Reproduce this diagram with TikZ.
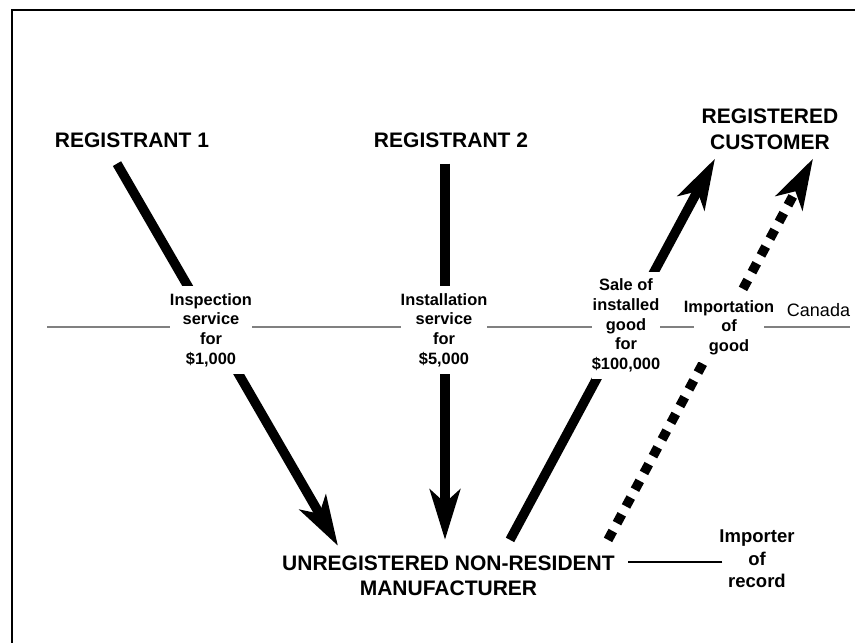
\documentclass[tikz,border=0pt]{standalone}
\usepackage{fontspec}
\setmainfont{Liberation Sans}
\usetikzlibrary{arrows.meta}
\tikzset{%
	heavy/.style={line width=9.5pt,-{Stealth[length=50pt,width=30pt,inset=13pt]}},
	dotty/.style={heavy,dash pattern=on 10pt off 9pt}
}

\begin{document}
\begin{tikzpicture}[x=1pt,y=-1pt,
	title/.style={inner sep=0pt,align=center,font=\bfseries\fontsize{21}{26}\selectfont},
	tag/.style={fill=white,inner xsep=0pt,inner ysep=7pt,align=center,font=\bfseries\fontsize{16.4}{19.7}\selectfont}]
	\useasboundingbox (0,0) rectangle (855,643);
	\draw [line width=2.2pt] (12,643) -- (12,10) -- (855,10);
	\node [title] (r1) at (132,140) {REGISTRANT 1};
	\node [title] (r2) at (451,140) {REGISTRANT 2};
	\node [title] (cust) at (770,129) {REGISTERED\\CUSTOMER};
	\node [title, font=\bfseries\fontsize{21}{25}\selectfont] (mfr) at (448.5,576) {UNREGISTERED NON-RESIDENT\\MANUFACTURER};
	\node [inner sep=0pt, align=center, font=\bfseries\fontsize{18.5}{22.5}\selectfont] (imp) at (757,559) {Importer\\of\\record};
	\node [inner sep=0pt, font=\fontsize{18}{20}\selectfont] (canada) at (818.5,310.5) {Canada};
	\draw [gray, line width=2pt] (47,327) -- (850,327);
	\draw [line width=1.2pt] ([shift={(3,3)}]imp.west) -- ([shift={(13,-14)}]mfr.east);
	\draw [heavy] ([shift={(-15,16)}]r1.south) -- ([shift={(-110.5,-10)}]mfr.north);
	\draw [heavy] ([shift={(-6,16)}]r2.south) -- ([shift={(-3.5,-16)}]mfr.north);
	\draw [heavy] ([shift={(61.5,-16)}]mfr.north) -- ([shift={(-55,9)}]cust.south);
	\draw [dotty] ([shift={(159.5,-16)}]mfr.north) -- ([shift={(43,9)}]cust.south);
	\node [tag] (t1) at (211,330) {Inspection\\service\\for\\\$1,000};
	\node [tag] (t2) at (444,330) {Installation\\service\\for\\\$5,000};
	\node [tag] (t3) at (626,325.5) {Sale of\\installed\\good\\for\\\$100,000};
	\node [tag, inner xsep=-10pt] (t4) at (729,327.5) {Importation\\of\\good};
\end{tikzpicture}
\end{document}
